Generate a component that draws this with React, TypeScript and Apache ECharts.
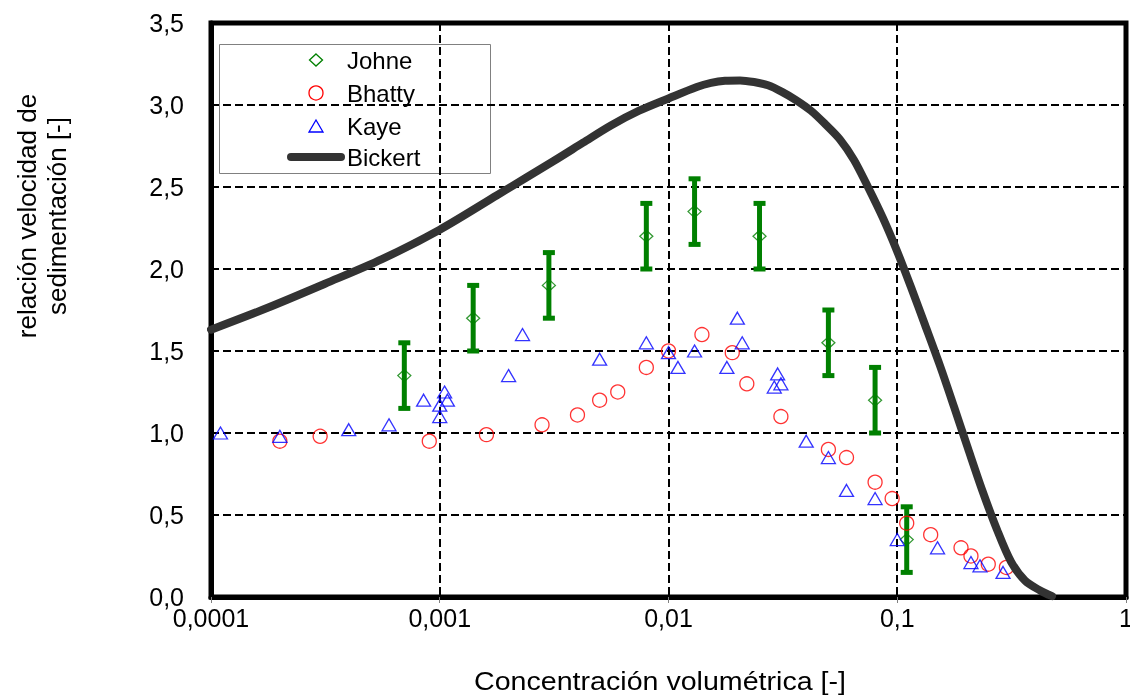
import React, { useEffect, useRef } from "react";
import * as echarts from "echarts";

const FONT = '"Liberation Sans", Arial, Helvetica, sans-serif';

// Johne (diamonds with error bars)
const johneX = [0.0007, 0.0014, 0.003, 0.008, 0.013, 0.025, 0.05, 0.08, 0.11];
const johneY = [1.35, 1.7, 1.9, 2.2, 2.35, 2.2, 1.55, 1.2, 0.35];
const johneErr = [0.2, 0.2, 0.2, 0.2, 0.2, 0.2, 0.2, 0.2, 0.2];

// Bhatty (circles)
const bhattyX = [0.0002, 0.0003, 0.0009, 0.0016, 0.0028, 0.004, 0.005, 0.006, 0.008, 0.01, 0.014, 0.019, 0.022, 0.031, 0.05, 0.06, 0.08, 0.095, 0.11, 0.14, 0.19, 0.21, 0.25, 0.3];
const bhattyY = [0.95, 0.98, 0.95, 0.99, 1.05, 1.11, 1.2, 1.25, 1.4, 1.5, 1.6, 1.49, 1.3, 1.1, 0.9, 0.85, 0.7, 0.6, 0.45, 0.38, 0.3, 0.25, 0.2, 0.18];

// Kaye (triangles)
const kayeX = [0.00011, 0.0002, 0.0004, 0.0006, 0.00085, 0.001, 0.001, 0.00105, 0.00108, 0.002, 0.0023, 0.005, 0.008, 0.01, 0.011, 0.013, 0.018, 0.02, 0.021, 0.029, 0.03, 0.031, 0.04, 0.05, 0.06, 0.08, 0.1, 0.15, 0.21, 0.23, 0.29];
const kayeY = [1.0, 0.98, 1.02, 1.05, 1.2, 1.1, 1.17, 1.25, 1.2, 1.35, 1.6, 1.45, 1.55, 1.49, 1.4, 1.5, 1.4, 1.7, 1.55, 1.28, 1.36, 1.3, 0.95, 0.85, 0.65, 0.6, 0.35, 0.3, 0.21, 0.19, 0.15];

// Bickert (curve)
const bickertX = [0.0001, 0.000178, 0.000315, 0.000559, 0.001, 0.00178, 0.00316, 0.00423, 0.0056, 0.00744, 0.01, 0.0133, 0.01534, 0.01766, 0.02054, 0.02365, 0.02723, 0.03134, 0.03608, 0.04198, 0.04832, 0.05618, 0.0647, 0.07448, 0.08665, 0.09975, 0.1148, 0.1322, 0.1538, 0.1771, 0.2039, 0.2347, 0.273, 0.3144, 0.3619, 0.4209, 0.4748];
const bickertY = [1.63, 1.765, 1.91, 2.06, 2.24, 2.45, 2.66, 2.77, 2.875, 2.965, 3.04, 3.11, 3.135, 3.148, 3.15, 3.14, 3.12, 3.08, 3.03, 2.965, 2.885, 2.79, 2.665, 2.5, 2.31, 2.11, 1.89, 1.66, 1.41, 1.16, 0.905, 0.655, 0.41, 0.215, 0.1, 0.04, 0.005];

const xTickLabels = ["0,0001", "0,001", "0,01", "0,1", "1"];
const legendNames = ["Johne", "Bhatty", "Kaye", "Bickert"];
const xTitle = "Concentración volumétrica [-]";
const yTitle = "relación velocidad de\nsedimentación [-]";

const GREEN = "#008000";
const RED = "#ff0000";
const BLUE = "#0000ff";
const CURVE = "#333333";

export default function App() {
  const ref = useRef<HTMLDivElement>(null);
  useEffect(() => {
    if (!ref.current) return;
    const chart = echarts.init(ref.current, null, { renderer: "svg" });
    const gridLine = { show: true, lineStyle: { color: "#000", width: 2, type: [8, 4] as any } };

    // legend drawn as graphic (box, symbols, texts)
    const lx = 316; // symbol centre x
    const tx = 347; // text start x
    const rows = [60, 93, 126, 157];
    const legendText = legendNames.map((n, i) => ({
      type: "text",
      x: tx,
      y: rows[i],
      style: { text: n, fontSize: 24, fill: "#000", align: "left", verticalAlign: "middle", fontFamily: FONT },
    }));
    const legendGroup = {
      type: "group",
      z: 100,
      children: [
        { type: "rect", shape: { x: 219.5, y: 44.5, width: 271, height: 129 }, style: { fill: "#fff", stroke: "#808080", lineWidth: 1 } },
        {
          type: "polygon",
          shape: { points: [[lx, rows[0] - 6], [lx + 6.5, rows[0]], [lx, rows[0] + 6], [lx - 6.5, rows[0]]] },
          style: { fill: "none", stroke: GREEN, lineWidth: 1.3 },
        },
        { type: "circle", shape: { cx: lx, cy: rows[1], r: 7 }, style: { fill: "none", stroke: RED, lineWidth: 1.3 } },
        {
          type: "polygon",
          shape: { points: [[lx, rows[2] - 6], [lx + 7, rows[2] + 6], [lx - 7, rows[2] + 6]] },
          style: { fill: "none", stroke: BLUE, lineWidth: 1.3 },
        },
        {
          type: "line",
          shape: { x1: 291, y1: rows[3], x2: 341, y2: rows[3] },
          style: { stroke: CURVE, lineWidth: 8, lineCap: "round" },
        },
        ...legendText,
      ],
    };

    const option: any = {
      animation: false,
      textStyle: { fontFamily: FONT },
      grid: {
        left: 211, right: 4, top: 23, bottom: 99,
        show: true, borderColor: "#000", borderWidth: 5, backgroundColor: "transparent",
        outerBoundsMode: "none", containLabel: false,
      },
      xAxis: {
        type: "log",
        logBase: 10,
        min: 0.0001,
        max: 1,
        axisLine: { show: true, lineStyle: { color: "#000", width: 5 } },
        axisTick: { show: true, length: 6, lineStyle: { color: "#808080", width: 1 } },
        minorTick: { show: false },
        axisLabel: {
          fontSize: 25,
          color: "#000",
          margin: 8,
          showMinLabel: true,
          showMaxLabel: true,
          hideOverlap: false,
          fontFamily: FONT,
          formatter: (v: number) => xTickLabels[Math.round(Math.log10(v)) + 4],
        },
        splitLine: gridLine,
      },
      yAxis: {
        type: "value",
        min: 0,
        max: 3.5,
        interval: 0.5,
        axisLine: { show: true, lineStyle: { color: "#000", width: 5 } },
        axisTick: { show: true, inside: true, length: 6, lineStyle: { color: "#000", width: 1 } },
        axisLabel: {
          fontSize: 25,
          color: "#000",
          margin: 27,
          fontFamily: FONT,
          formatter: (v: number) => v.toFixed(1).replace(".", ","),
        },
        splitLine: gridLine,
      },
      graphic: [
        legendGroup,
        {
          type: "text",
          x: 660,
          y: 681,
          scaleX: 1.1,
          style: { text: xTitle, fontSize: 26, fill: "#000", align: "center", verticalAlign: "middle", fontFamily: FONT },
        },
        {
          type: "text",
          x: 42,
          y: 216,
          rotation: Math.PI / 2,
          style: { text: yTitle, fontSize: 26, lineHeight: 30, fill: "#000", align: "center", verticalAlign: "middle", fontFamily: FONT },
        },
      ],
      series: [
        {
          name: "Johne error",
          type: "custom",
          data: johneX.map((x, i) => [x, johneY[i], johneErr[i]]),
          encode: { x: 0, y: 1 },
          renderItem: (params: any, api: any) => {
            const x = api.value(0);
            const y = api.value(1);
            const e = api.value(2);
            const top = api.coord([x, y + e]);
            const bot = api.coord([x, y - e]);
            return {
              type: "group",
              children: [
                { type: "line", shape: { x1: top[0], y1: top[1], x2: bot[0], y2: bot[1] }, style: { stroke: GREEN, lineWidth: 5 } },
                { type: "rect", shape: { x: top[0] - 6, y: top[1] - 2.5, width: 12, height: 5 }, style: { fill: GREEN } },
                { type: "rect", shape: { x: bot[0] - 6, y: bot[1] - 2.5, width: 12, height: 5 }, style: { fill: GREEN } },
              ],
            };
          },
        },
        {
          name: "Johne",
          type: "scatter",
          symbol: "diamond",
          symbolSize: [13, 12],
          data: johneX.map((x, i) => [x, johneY[i]]),
          itemStyle: { color: "transparent", borderColor: GREEN, borderWidth: 1.3 },
        },
        {
          name: "Bhatty",
          type: "scatter",
          symbol: "circle",
          symbolSize: 14,
          data: bhattyX.map((x, i) => [x, bhattyY[i]]),
          itemStyle: { color: "transparent", borderColor: RED, borderWidth: 1.3 },
        },
        {
          name: "Kaye",
          type: "scatter",
          symbol: "triangle",
          symbolSize: [14, 12],
          data: kayeX.map((x, i) => [x, kayeY[i]]),
          itemStyle: { color: "transparent", borderColor: BLUE, borderWidth: 1.3 },
        },
        {
          name: "Bickert",
          type: "line",
          symbol: "none",
          showSymbol: false,
          smooth: 0.3,
          clip: false,
          data: bickertX.map((x, i) => [x, bickertY[i]]),
          lineStyle: { color: CURVE, width: 8, cap: "round", join: "round" },
          itemStyle: { color: CURVE },
        },
      ],
    };
    chart.setOption(option);
    return () => chart.dispose();
  }, []);
  return <div ref={ref} style={{ position: "fixed", left: 0, top: 0, width: 1130, height: 696 }} />;
}
